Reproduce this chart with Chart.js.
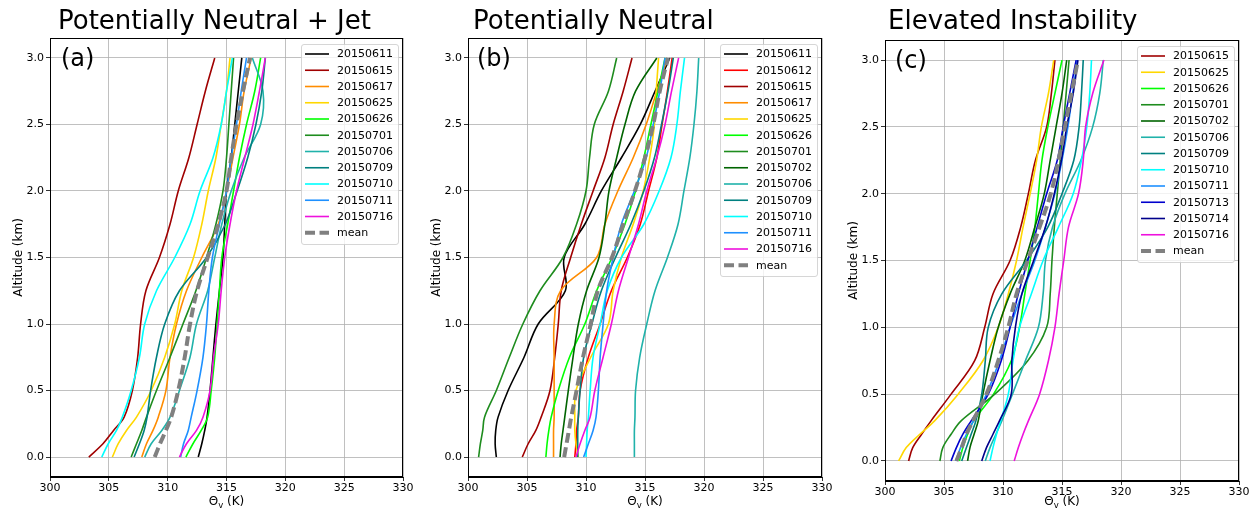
<!DOCTYPE html>
<html>
<head>
<meta charset="utf-8">
<script src="https://cdn.jsdelivr.net/npm/chart.js@4/dist/chart.umd.min.js"></script>
<style>
  html, body { margin: 0; padding: 0; background: #fff; }
  #wrap { position: relative; width: 1258px; height: 512px; overflow: hidden; }
  canvas { position: absolute; }
</style>
</head>
<body>
<div id="wrap">
  <canvas id="panelA" width="420" height="512" style="left:0px;top:0px"></canvas>
  <canvas id="panelB" width="421" height="512" style="left:418px;top:0px"></canvas>
  <canvas id="panelC" width="421" height="510" style="left:835px;top:2px"></canvas>
</div>
<script>
// altitude levels (km) shared by every profile
const altitudes = [0, 0.1, 0.2, 0.3, 0.5, 0.75, 1.0, 1.25, 1.5, 1.75, 2.0, 2.25, 2.5, 2.75, 3.0];
const xTicks = [300, 305, 310, 315, 320, 325, 330];
const yTicks = [0, 0.5, 1.0, 1.5, 2.0, 2.5, 3.0];

// (a) Potentially Neutral + Jet, theta_v (K)
const a20150611 = [312.6, 312.9, 313.15, 313.35, 313.6, 313.85, 314.1, 314.4, 314.7, 314.85, 315.0, 315.4, 315.7, 316.0, 316.3];
const a20150615 = [303.3, 304.5, 305.4, 306.3, 307.0, 307.45, 307.7, 308.15, 309.3, 310.2, 310.9, 311.8, 312.5, 313.2, 314.0];
const a20150617 = [307.8, 308.2, 308.75, 309.2, 309.85, 310.2, 310.75, 311.6, 312.9, 314.3, 315.0, 315.55, 316.1, 316.5, 317.1];
const a20150625 = [305.3, 305.8, 306.5, 307.35, 308.6, 309.75, 310.6, 311.2, 312.2, 312.9, 313.45, 314.1, 314.55, 315.0, 315.3];
const a20150626 = [311.55, 312.15, 312.85, 313.4, 313.7, 314.0, 314.2, 314.4, 314.6, 315.1, 315.6, 316.1, 316.7, 317.4, 317.9];
const a20150701 = [306.9, 307.35, 307.8, 308.2, 309.05, 310.2, 311.3, 312.4, 313.3, 314.1, 314.7, 315.0, 315.2, 315.4, 315.6];
const a20150706 = [308.05, 308.6, 309.5, 310.2, 311.0, 311.9, 312.45, 313.4, 314.0, 314.6, 315.4, 316.5, 317.9, 318.1, 317.2];
const a20150709 = [307.15, 307.6, 308.0, 308.25, 308.55, 309.05, 309.75, 311.0, 313.3, 314.9, 315.9, 316.8, 317.5, 318.0, 318.3];
const a20150710 = [304.4, 304.95, 305.65, 306.15, 306.9, 307.6, 308.05, 309.05, 310.6, 311.9, 312.75, 313.85, 314.55, 315.0, 315.5];
const a20150711 = [311.1, 311.35, 311.75, 312.0, 312.5, 313.0, 313.3, 313.5, 313.8, 314.4, 315.0, 315.4, 315.85, 316.25, 316.7];
const a20150716 = [311.0, 311.6, 312.45, 313.0, 313.6, 313.9, 314.3, 314.55, 314.85, 315.3, 315.85, 316.55, 317.25, 317.8, 318.3];
const aMean     = [308.9, 309.35, 309.85, 310.3, 310.9, 311.45, 311.9, 312.5, 313.4, 314.3, 315.0, 315.4, 315.85, 316.4, 317.0];

// (b) Potentially Neutral
const b20150611 = [302.4, 302.3, 302.35, 302.55, 303.4, 304.75, 305.95, 308.25, 308.15, 309.9, 311.3, 313.0, 314.6, 315.85, 317.1];
const b20150612 = [309.05, 309.15, 309.2, 309.35, 309.5, 310.2, 311.2, 312.15, 313.5, 314.6, 315.3, 316.0, 316.45, 316.9, 317.3];
const b20150615 = [304.6, 305.1, 305.75, 306.2, 306.95, 307.35, 307.65, 307.9, 308.7, 309.6, 310.6, 311.6, 312.3, 313.15, 313.9];
const b20150617 = [307.25, 307.25, 307.25, 307.3, 307.3, 307.3, 307.3, 307.85, 310.9, 311.6, 312.7, 314.0, 315.1, 316.0, 316.9];
const b20150625 = [309.35, 309.15, 309.05, 309.05, 309.15, 310.4, 311.9, 312.3, 313.0, 314.0, 314.85, 315.4, 315.8, 315.95, 316.15];
const b20150626 = [306.6, 306.7, 306.85, 307.05, 307.65, 308.6, 309.9, 310.9, 312.2, 313.3, 314.2, 314.9, 315.5, 316.1, 316.7];
const b20150701 = [300.9, 301.05, 301.25, 301.4, 302.4, 303.5, 304.65, 306.1, 308.05, 309.2, 310.0, 310.3, 310.7, 311.9, 312.6];
const b20150702 = [307.8, 307.9, 308.05, 308.2, 308.5, 308.9, 309.35, 310.05, 311.1, 311.6, 311.95, 312.6, 313.3, 314.2, 316.0];
const b20150706 = [314.1, 314.1, 314.1, 314.15, 314.2, 314.55, 315.15, 315.85, 316.9, 317.8, 318.3, 318.8, 319.15, 319.4, 319.55];
const b20150709 = [309.3, 309.3, 309.3, 309.35, 309.5, 309.8, 310.5, 311.3, 312.5, 313.8, 314.9, 315.8, 316.4, 316.95, 317.4];
const b20150710 = [310.0, 310.05, 310.1, 310.2, 310.35, 310.6, 311.2, 311.8, 313.0, 314.9, 316.2, 317.2, 317.7, 318.0, 318.35];
const b20150711 = [309.8, 310.2, 310.6, 310.85, 311.05, 311.2, 311.45, 311.75, 312.3, 313.0, 314.1, 315.1, 315.7, 316.25, 316.7];
const b20150716 = [309.15, 309.5, 309.9, 310.35, 310.75, 311.45, 312.15, 312.75, 313.6, 314.45, 315.15, 316.0, 316.7, 317.25, 317.85];
const bMean     = [308.15, 308.35, 308.55, 308.75, 309.2, 309.75, 310.4, 311.0, 312.2, 313.15, 314.15, 315.0, 315.7, 316.25, 316.95];

// (c) Elevated Instability
const c20150615 = [302.0, 302.35, 303.1, 303.9, 305.6, 307.6, 308.45, 309.15, 310.6, 311.5, 312.15, 312.75, 313.7, 314.1, 314.4];
const c20150625 = [301.15, 301.8, 302.95, 304.2, 306.2, 308.3, 309.6, 310.45, 311.15, 311.7, 312.3, 312.85, 313.25, 313.85, 314.3];
const c20150626 = [306.3, 306.6, 307.0, 307.5, 309.2, 310.7, 311.4, 311.85, 312.3, 312.7, 313.0, 313.3, 313.8, 314.4, 315.0];
const c20150701 = [304.65, 304.9, 305.6, 306.45, 309.3, 312.1, 313.7, 314.0, 314.15, 314.35, 314.6, 314.85, 315.1, 315.35, 315.6];
const c20150702 = [307.0, 307.2, 307.55, 307.9, 308.3, 308.9, 309.6, 310.6, 311.85, 312.7, 313.5, 314.0, 314.5, 315.0, 315.4];
const c20150706 = [308.5, 308.9, 309.4, 309.9, 310.8, 311.9, 313.0, 313.4, 313.6, 314.2, 315.25, 316.6, 317.6, 318.2, 318.5];
const c20150709 = [306.5, 306.9, 307.3, 307.7, 308.2, 308.5, 308.75, 309.9, 312.0, 313.8, 315.0, 316.0, 316.45, 316.65, 316.8];
const c20150710 = [308.9, 309.15, 309.45, 309.8, 310.45, 310.85, 311.4, 312.4, 313.4, 314.7, 315.95, 316.65, 317.1, 317.35, 317.5];
const c20150711 = [306.0, 306.4, 306.9, 307.5, 308.6, 309.7, 310.6, 311.6, 312.7, 313.6, 314.4, 315.0, 315.5, 315.9, 316.3];
const c20150713 = [305.6, 306.05, 306.6, 307.3, 308.75, 309.85, 310.6, 311.3, 312.1, 312.9, 313.7, 314.6, 315.1, 315.65, 316.2];
const c20150714 = [308.2, 308.6, 309.15, 309.7, 310.7, 310.75, 311.05, 311.6, 312.6, 313.6, 314.35, 314.95, 315.4, 315.95, 316.35];
const c20150716 = [310.95, 311.3, 311.7, 312.15, 313.1, 313.85, 314.4, 314.75, 315.15, 315.55, 316.4, 316.8, 317.0, 317.6, 318.55];
const cMean     = [306.05, 306.5, 306.9, 307.45, 308.6, 309.6, 310.45, 311.15, 312.1, 313.1, 314.05, 314.7, 315.25, 315.8, 316.35];

const seriesA = [
  ['20150611', a20150611], ['20150615', a20150615], ['20150617', a20150617],
  ['20150625', a20150625], ['20150626', a20150626], ['20150701', a20150701],
  ['20150706', a20150706], ['20150709', a20150709], ['20150710', a20150710],
  ['20150711', a20150711], ['20150716', a20150716], ['mean', aMean]
];
const seriesB = [
  ['20150611', b20150611], ['20150612', b20150612], ['20150615', b20150615],
  ['20150617', b20150617], ['20150625', b20150625], ['20150626', b20150626],
  ['20150701', b20150701], ['20150702', b20150702], ['20150706', b20150706],
  ['20150709', b20150709], ['20150710', b20150710], ['20150711', b20150711],
  ['20150716', b20150716], ['mean', bMean]
];
const seriesC = [
  ['20150615', c20150615], ['20150625', c20150625], ['20150626', c20150626],
  ['20150701', c20150701], ['20150702', c20150702], ['20150706', c20150706],
  ['20150709', c20150709], ['20150710', c20150710], ['20150711', c20150711],
  ['20150713', c20150713], ['20150714', c20150714], ['20150716', c20150716],
  ['mean', cMean]
];

const dateColors = {
  '20150611': '#000000', '20150612': '#ff0000', '20150615': '#a00000',
  '20150617': '#ff8c00', '20150625': '#ffd700', '20150626': '#00ff00',
  '20150701': '#1e8c1e', '20150702': '#006400', '20150706': '#20b2aa',
  '20150709': '#008080', '20150710': '#00ffff', '20150711': '#1e90ff',
  '20150713': '#0000cd', '20150714': '#00008b', '20150716': '#ee11dd',
  'mean': '#808080'
};

const FONT = '"DejaVu Sans", sans-serif';
Chart.defaults.font.family = FONT;
Chart.defaults.color = '#000';

// frame, legend, panel letter, titles
const panelDecor = {
  id: 'panelDecor',
  afterDatasetsDraw(chart, args, opts) {
    const ctx = chart.ctx, a = chart.chartArea;
    ctx.save();
    ctx.strokeStyle = '#000';
    ctx.lineWidth = 1;
    ctx.strokeRect(Math.round(a.left) + 0.5, Math.round(a.top) + 0.5,
                   Math.round(a.right - a.left) - 1, Math.round(a.bottom - a.top) - 1);

    // panel letter
    ctx.fillStyle = '#000';
    ctx.font = '24px ' + FONT;
    ctx.textAlign = 'left';
    ctx.textBaseline = 'alphabetic';
    ctx.fillText(opts.letter, a.left + opts.letterDx, chart.scales.y.getPixelForValue(3.0) + 8.2);

    // legend
    const ds = chart.data.datasets;
    ctx.font = '11px ' + FONT;
    let tw = 0;
    ds.forEach(d => { tw = Math.max(tw, ctx.measureText(d.label).width); });
    const rowH = 16.25;
    const boxW = 36 + tw + 5;
    const boxH = (ds.length - 1) * rowH + 21;
    const bx = a.right - 5 - boxW, by = a.top + 6;
    ctx.fillStyle = 'rgba(255,255,255,0.8)';
    ctx.strokeStyle = 'rgba(204,204,204,0.8)';
    ctx.lineWidth = 1;
    ctx.beginPath();
    ctx.roundRect(Math.round(bx) + 0.5, Math.round(by) + 0.5, Math.round(boxW), Math.round(boxH), 2.5);
    ctx.fill();
    ctx.stroke();
    ds.forEach((d, i) => {
      const cy = by + 10 + i * rowH;
      ctx.strokeStyle = d.borderColor;
      ctx.lineWidth = d.borderWidth;
      ctx.setLineDash(d.borderDash || []);
      ctx.beginPath();
      ctx.moveTo(bx + 4, cy);
      ctx.lineTo(bx + 28, cy);
      ctx.stroke();
      ctx.setLineDash([]);
      ctx.fillStyle = '#000';
      ctx.textBaseline = 'middle';
      ctx.fillText(d.label, bx + 36, cy + 0.5);
    });
    ctx.restore();
  },
  afterDraw(chart, args, opts) {
    const ctx = chart.ctx, a = chart.chartArea;
    ctx.save();
    ctx.fillStyle = '#000';
    ctx.textBaseline = 'alphabetic';
    // panel title
    ctx.font = '26px ' + FONT;
    ctx.textAlign = 'left';
    ctx.fillText(opts.title, a.left + opts.titleDx, opts.titleY);
    // x axis title with subscript
    const cx = (a.left + a.right) / 2;
    const base = opts.xTitleY;
    ctx.font = '12px ' + FONT;
    const w1 = ctx.measureText('\u0398').width;
    const w3 = ctx.measureText(' (K)').width;
    ctx.font = '8.5px ' + FONT;
    const w2 = ctx.measureText('v').width;
    let x0 = cx - (w1 + w2 + w3) / 2;
    ctx.font = '12px ' + FONT;
    ctx.fillText('\u0398', x0, base);
    ctx.font = '8.5px ' + FONT;
    ctx.fillText('v', x0 + w1, base + 2.5);
    ctx.font = '12px ' + FONT;
    ctx.fillText(' (K)', x0 + w1 + w2, base);
    // y axis title
    ctx.translate(22, (a.top + a.bottom) / 2);
    ctx.rotate(-Math.PI / 2);
    ctx.textAlign = 'center';
    ctx.fillText('Altitude (km)', 0, 0);
    ctx.restore();
  }
};

function makePanel(canvasId, series, opts) {
  const n = series.length;
  const datasets = series.map(([label, values], i) => ({
    label: label,
    data: values.map((v, k) => ({ x: v, y: altitudes[k] })),
    borderColor: dateColors[label],
    borderWidth: label === 'mean' ? 4 : 1.6,
    borderDash: label === 'mean' ? [10, 4.5] : [],
    pointRadius: 0,
    tension: 0.35,
    fill: false,
    order: n - i
  }));
  new Chart(document.getElementById(canvasId), {
    type: 'line',
    data: { datasets: datasets },
    options: {
      responsive: false,
      animation: false,
      devicePixelRatio: 1,
      layout: { padding: { top: 38, right: 17, left: 0, bottom: 0 } },
      plugins: {
        legend: { display: false },
        tooltip: { enabled: false },
        panelDecor: opts
      },
      scales: {
        x: {
          type: 'linear',
          min: xTicks[0],
          max: xTicks[xTicks.length - 1],
          afterBuildTicks: s => { s.ticks = xTicks.map(v => ({ value: v })); },
          ticks: { font: { size: 11 }, color: '#000', padding: 1, maxRotation: 0, autoSkip: false,
                   callback: v => String(v) },
          grid: { color: '#b0b0b0', lineWidth: 0.8, tickLength: 4, tickColor: '#000', tickWidth: 0.8 },
          border: { color: '#000', width: 1 },
          afterFit: s => { s.height = opts.xAxisH; }
        },
        y: {
          type: 'linear',
          min: -0.15,
          max: 3.15,
          afterBuildTicks: s => { s.ticks = yTicks.map(v => ({ value: v })); },
          ticks: { font: { size: 11 }, color: '#000', padding: 2, autoSkip: false,
                   callback: v => Number(v).toFixed(1) },
          grid: { color: '#b0b0b0', lineWidth: 0.8, tickLength: 4, tickColor: '#000', tickWidth: 0.8 },
          border: { color: '#000', width: 1 },
          afterFit: s => { s.width = 50; }
        }
      }
    },
    plugins: [panelDecor]
  });
}

makePanel('panelA', seriesA, { title: 'Potentially Neutral + Jet', titleDx: 8, titleY: 29.3,
  letter: '(a)', letterDx: 11, xTitleY: 505, xAxisH: 35 });
makePanel('panelB', seriesB, { title: 'Potentially Neutral', titleDx: 5, titleY: 29.3,
  letter: '(b)', letterDx: 9, xTitleY: 505, xAxisH: 35 });
makePanel('panelC', seriesC, { title: 'Elevated Instability', titleDx: 3, titleY: 27.3,
  letter: '(c)', letterDx: 10, xTitleY: 503, xAxisH: 31 });
</script>
</body>
</html>
